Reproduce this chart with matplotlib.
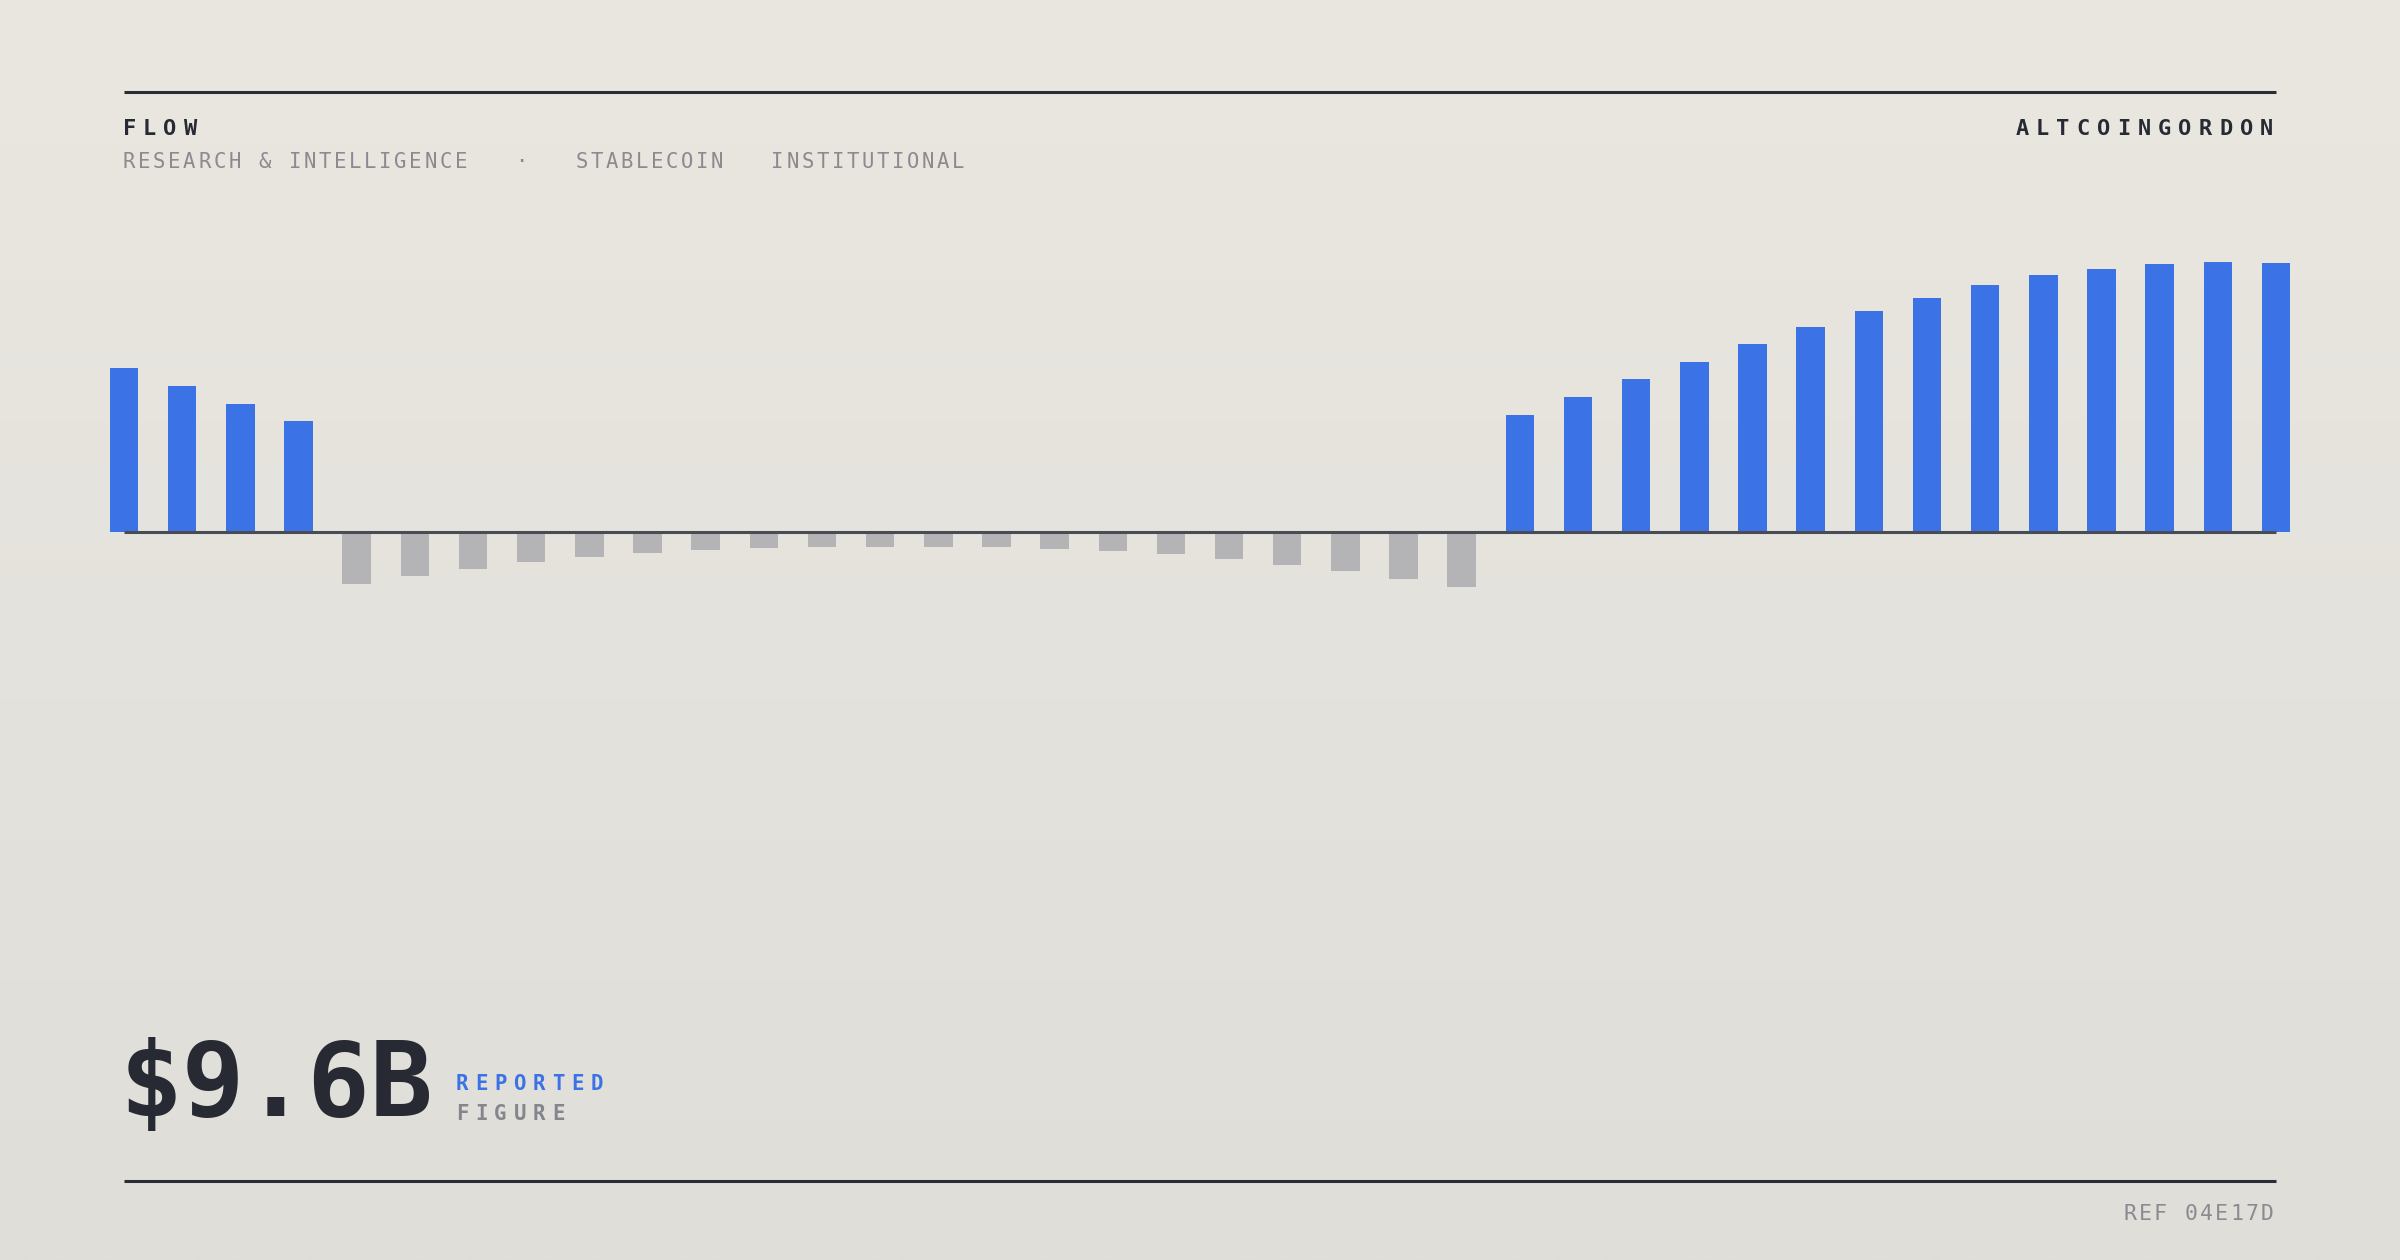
"""
Stablecoin flow poster: signed bars on a centre baseline, headline figure below.
"""
import numpy as np
import matplotlib
matplotlib.use('Agg')
import matplotlib.pyplot as plt
from matplotlib.lines import Line2D

W, H = 2400, 1260
DPI = 100

# data (flow per period, arbitrary units; positive = inflow)
inflow_start = [164, 146, 128, 111]
outflow_mid = [-52, -44, -37, -30, -25, -21, -18, -16, -15, -15,
               -15, -15, -17, -19, -22, -27, -33, -39, -47, -55]
inflow_end = [117, 135, 153, 170, 188, 205, 221, 234, 247, 257,
              263, 268, 270, 269]
flows = np.array(inflow_start + outflow_mid + inflow_end, dtype=float)

title = 'FLOW'
subtitle = 'RESEARCH & INTELLIGENCE   ·   STABLECOIN   INSTITUTIONAL'
brand = 'ALTCOINGORDON'
headline = '$9.6B'
headline_tag = 'REPORTED'
headline_sub = 'FIGURE'
ref_code = 'REF 04E17D'

BLUE = '#3b73e6'
GREY_BAR = '#b4b4b6'
INK = '#272a33'
MUTED = '#8a8a90'
MONO = 'DejaVu Sans Mono'

LEFT, RIGHT = 124, 2276      # px, margins of the rules
BASE_Y = 532                 # px from top, zero line

fig = plt.figure(figsize=(W / DPI, H / DPI), dpi=DPI)

# background gradient
bg = fig.add_axes([0, 0, 1, 1], zorder=0)
top = np.array([0xea, 0xe7, 0xe0]) / 255
bot = np.array([0xdf, 0xde, 0xd9]) / 255
t = np.linspace(0, 1, 256)[:, None]
grad = (top[None, :] * (1 - t) + bot[None, :] * t)[:, None, :]
bg.imshow(grad, aspect='auto', extent=[0, 1, 0, 1], interpolation='bilinear')
bg.axis('off')

# bar axes: 1 value unit == 1 px vertically
ax = fig.add_axes([0, 0, 1, 1], zorder=1)
ax.patch.set_alpha(0)
n = len(flows)
pitch = (RIGHT - LEFT) / (n - 1)
ax.set_xlim(-LEFT / pitch, (W - LEFT) / pitch)
ax.set_ylim(-(H - BASE_Y), BASE_Y)
ax.axis('off')

idx = np.arange(n)
colors = [BLUE if v > 0 else GREY_BAR for v in flows]
ax.bar(idx, flows, width=0.49, color=colors, linewidth=0, zorder=2)
ax.plot([0, n - 1], [0, 0], color='#4a4c54', lw=2.2, solid_capstyle='butt', zorder=3)

# rules
for y in (92, 1180.5):
    fig.add_artist(Line2D([LEFT / W, RIGHT / W], [1 - y / H, 1 - y / H],
                          color='#2a2d35', lw=2.2, solid_capstyle='butt'))


def tracked(x, base, s, size_px, pitch_px, color, weight='normal', align='left'):
    # letter-spaced monospace text, x/base in px from top-left
    cell = 0.602 * size_px
    inset = 0.06 * size_px
    total = (len(s) - 1) * pitch_px + cell - 2 * inset
    x0 = x - inset if align == 'left' else x - total - inset - 4
    for i, ch in enumerate(s):
        if ch == ' ':
            continue
        fig.text((x0 + i * pitch_px + cell / 2) / W, 1 - base / H, ch,
                 ha='center', va='baseline', family=MONO, fontsize=size_px * 0.72,
                 color=color, fontweight=weight)


tracked(LEFT, 135, title, 22, 20.4, INK, weight='bold')
tracked(RIGHT, 135, brand, 22, 20.4, INK, weight='bold', align='right')
tracked(LEFT, 168, subtitle, 20.6, 15.08, MUTED)

fig.text(LEFT / W - 0.002, 1 - 1116 / H, headline, ha='left', va='baseline',
         family=MONO, fontweight='bold', fontsize=75, color=INK)
tracked(457, 1090, headline_tag, 20.6, 19.2, BLUE, weight='bold')
tracked(457, 1120, headline_sub, 20.6, 19.2, '#85858c', weight='bold')
tracked(RIGHT, 1220.5, ref_code, 21.5, 15.2, MUTED, align='right')

fig.savefig('out.png', dpi=DPI)
